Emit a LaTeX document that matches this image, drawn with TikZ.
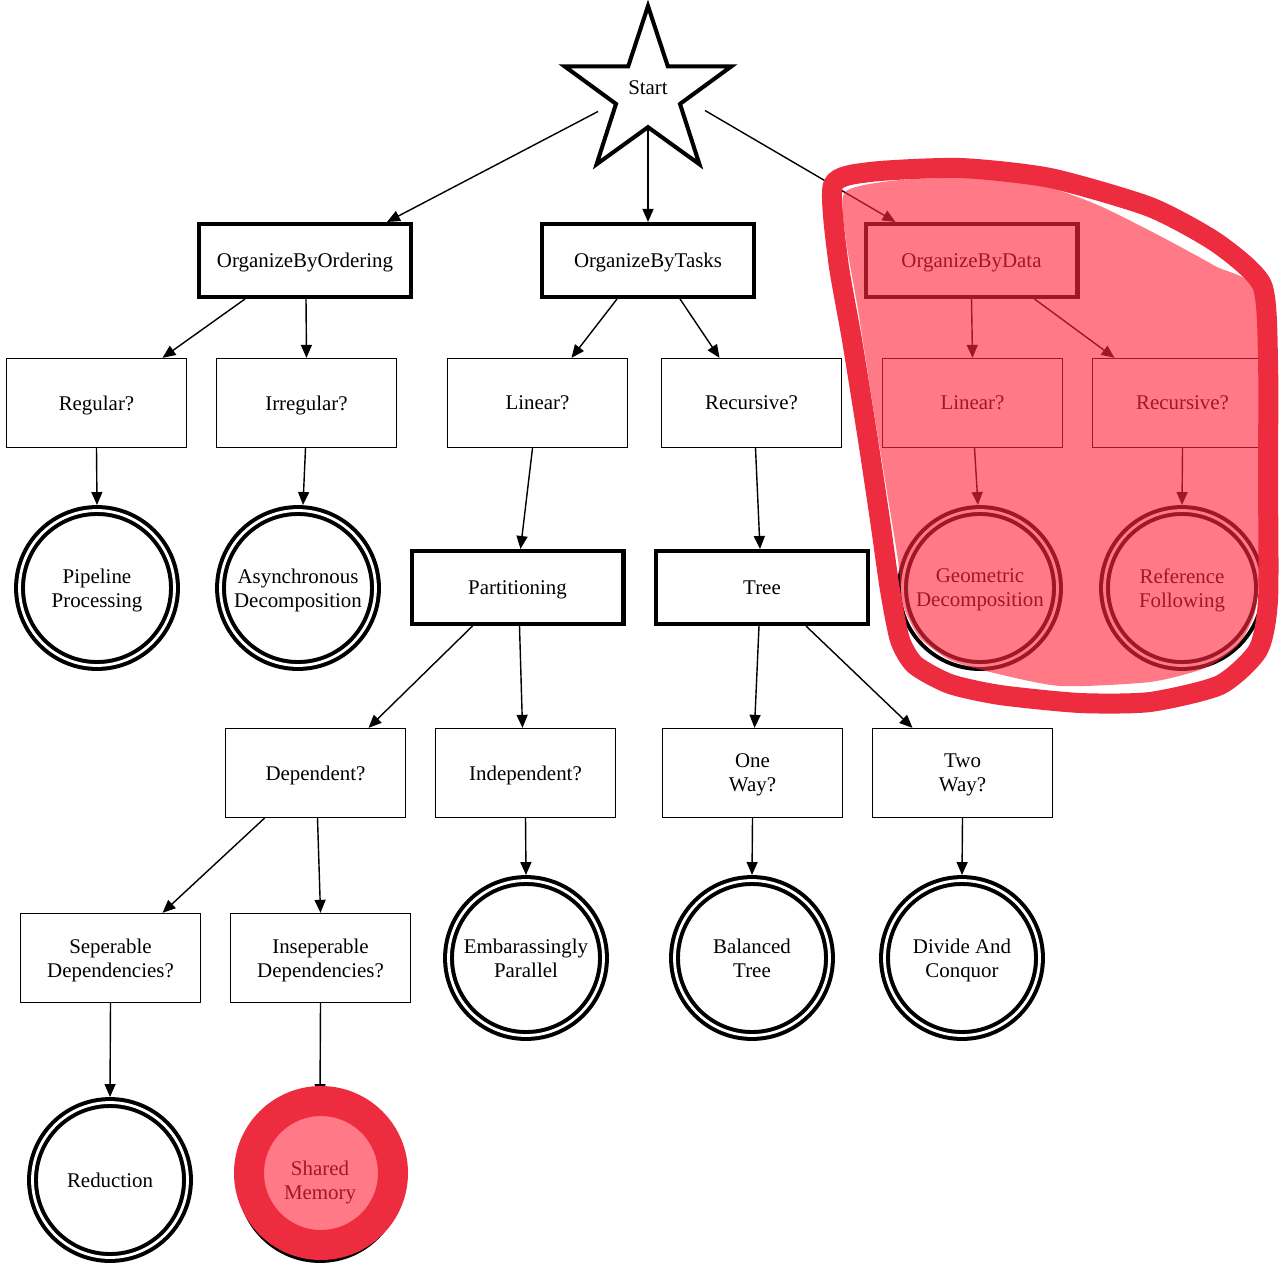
\documentclass[tikz,border=0pt]{standalone}
\usepackage{fontspec}
\setmainfont{Liberation Serif}
\usetikzlibrary{shapes.geometric,arrows.meta,calc}
\definecolor{hlstroke}{RGB}{238,44,64}
\definecolor{hlfill}{RGB}{255,40,60}
\begin{document}
\begin{tikzpicture}[x=0.02cm,y=-0.02cm,
  every node/.style={font=\fontsize{11.9}{13.6}\selectfont, align=center, text depth=0pt},
  question/.style={draw, line width=0.75pt, minimum width=3.6cm, minimum height=1.78cm, inner sep=0pt},
  groupbox/.style={draw, line width=2.3pt, minimum width=4.24cm, minimum height=1.46cm, inner sep=0pt},
  solution/.style={circle, draw, line width=2.3pt, double, double distance=1.6pt, minimum size=3.1cm, inner sep=0pt, outer sep=0.11cm},
  link/.style={line width=0.8pt, -{Triangle[length=0.26cm,width=0.22cm]}},
]
\useasboundingbox[fill=white] (0,0) rectangle (1280,1270);

% root
\node[star, star points=5, star point ratio=2.6, draw, line width=2.3pt,
      minimum size=3.5cm, inner sep=1pt] (start) at (648,93.5) {\raisebox{6.5pt}{Start}};

% first level
\node[groupbox] (obo) at (305,260.5) {OrganizeByOrdering};
\node[groupbox] (obt) at (648,260.5) {OrganizeByTasks};
\node[groupbox] (obd) at (971.5,260.5) {OrganizeByData};

% questions under each group
\node[question] (regular) at (96.5,403) {Regular?};
\node[question] (irregular) at (306.5,403) {Irregular?};
\node[question] (linear) at (537.5,403) {Linear?};
\node[question] (recursive) at (751.5,403) {Recursive?};
\node[question] (dlinear) at (972.5,403) {Linear?};
\node[question] (drecursive) at (1182.5,403) {Recursive?};

% patterns and sub-groups
\node[solution] (pipeline) at (97,588) {Pipeline\\Processing};
\node[solution] (async) at (298,588) {Asynchronous\\Decomposition};
\node[groupbox] (partitioning) at (517.5,587.5) {Partitioning};
\node[groupbox] (tree) at (762,587.5) {Tree};
\node[solution] (geometric) at (980,588) {Geometric\\Decomposition};
\node[solution] (reference) at (1182,588) {Reference\\Following};

\node[question] (dependent) at (315.5,773) {Dependent?};
\node[question] (independent) at (525.5,773) {Independent?};
\node[question] (oneway) at (752.5,773) {One\\Way?};
\node[question] (twoway) at (962.5,773) {Two\\Way?};

\node[question] (seperable) at (110.5,958) {Seperable\\Dependencies?};
\node[question] (inseperable) at (320.5,958) {Inseperable\\Dependencies?};
\node[solution] (embar) at (526,958) {Embarassingly\\Parallel};
\node[solution] (balanced) at (752,958) {Balanced\\Tree};
\node[solution] (divide) at (962,958) {Divide And\\Conquor};

\node[solution] (reduction) at (110,1180) {Reduction};
\node[solution] (shared) at (320,1180) {Shared\\Memory};

% connectors
\draw[link] ($(start.center)+(-50,18)$) -- ($(obo.north)+(82,0)$);
\draw[link] ($(start.center)+(0,36)$) -- (obt.north);
\draw[link] ($(start.center)+(57,17)$) -- ($(obd.north)+(-76,0)$);

\draw[link] ($(obo.south)+(-60,0)$) -- ($(regular.north)+(66,0)$);
\draw[link] ($(obo.south)+(1,0)$) -- (irregular.north);
\draw[link] ($(obt.south)+(-31,0)$) -- ($(linear.north)+(34,0)$);
\draw[link] ($(obt.south)+(32,0)$) -- ($(recursive.north)+(-32,0)$);
\draw[link] (obd.south) -- (dlinear.north);
\draw[link] ($(obd.south)+(63,0)$) -- ($(drecursive.north)+(-68,0)$);

\draw[link] (regular.south) -- (pipeline.north);
\draw[link] ($(irregular.south)+(-1,0)$) -- ($(async.north)+(5,0)$);
\draw[link] ($(linear.south)+(-5,0)$) -- ($(partitioning.north)+(3,0)$);
\draw[link] ($(recursive.south)+(4,0)$) -- ($(tree.north)+(-2,0)$);
\draw[link] ($(dlinear.south)+(2,0)$) -- ($(geometric.north)+(-2,0)$);
\draw[link] (drecursive.south) -- (reference.north);

\draw[link] ($(partitioning.south)+(-45,0)$) -- ($(dependent.north)+(53,0)$);
\draw[link] ($(partitioning.south)+(2,0)$) -- ($(independent.north)+(-3,0)$);
\draw[link] ($(tree.south)+(-3,0)$) -- ($(oneway.north)+(2,0)$);
\draw[link] ($(tree.south)+(44,0)$) -- ($(twoway.north)+(-50,0)$);

\draw[link] ($(dependent.south)+(-51,0)$) -- ($(seperable.north)+(52,0)$);
\draw[link] ($(dependent.south)+(2,0)$) -- (inseperable.north);
\draw[link] (independent.south) -- (embar.north);
\draw[link] (oneway.south) -- (balanced.north);
\draw[link] (twoway.south) -- (divide.north);

\draw[link] (seperable.south) -- (reduction.north);
\draw[link] (inseperable.south) -- (shared.north);

% hand-drawn highlight around the data branch: translucent fill, then the outline
\fill[hlfill, opacity=0.62] plot[smooth cycle, tension=0.4] coordinates {
  (845,192) (900,180) (980,178) (1050,188) (1100,206) (1160,236) (1215,266)
  (1256,292) (1260,420) (1260,560) (1255,612) (1238,645) (1205,668) (1150,682)
  (1060,686) (990,672) (950,660) (920,638) (903,605) (898,560) (885,480)
  (872,400) (858,310) (846,240)};
\draw[hlstroke, line width=0.4cm, line join=round] plot[smooth cycle, tension=0.4] coordinates {
  (833,185) (870,172) (960,168) (1050,178) (1150,207) (1217,243) (1262,285)
  (1268,360) (1268,480) (1268,600) (1258,650) (1220,685) (1150,702) (1080,703)
  (1000,695) (950,684) (915,665) (900,640) (890,590) (880,520) (868,440)
  (852,340) (838,260)};

% hand-drawn highlight around shared memory
\fill[hlfill, opacity=0.62] ($(shared.center)+(1,-7)$) circle[radius=72];
\draw[hlstroke, line width=0.6cm] ($(shared.center)+(1,-7)$) circle[radius=72];
\end{tikzpicture}
\end{document}
